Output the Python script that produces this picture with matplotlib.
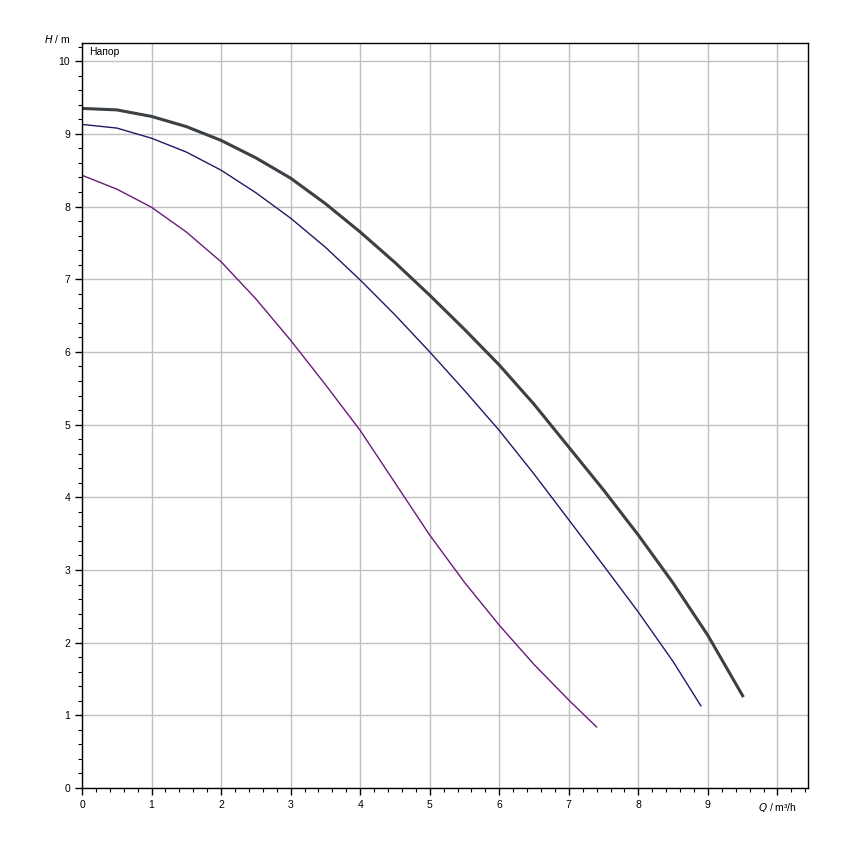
import matplotlib
matplotlib.use("Agg")
import matplotlib.pyplot as plt
from matplotlib.ticker import MultipleLocator

plt.rcParams['font.family'] = ['Liberation Sans', 'DejaVu Sans']

# Q in m3/h, H in m
q_top = [0, 0.5, 1, 1.5, 2, 2.5, 3, 3.5, 4, 4.5, 5, 5.5, 6, 6.5, 7, 7.5, 8, 8.5, 9, 9.5]
h_top = [9.35, 9.33, 9.24, 9.1, 8.91, 8.67, 8.39, 8.04, 7.65, 7.23, 6.78, 6.31, 5.82, 5.28, 4.69, 4.1, 3.48, 2.82, 2.10, 1.27]

q_mid = [0, 0.5, 1, 1.5, 2, 2.5, 3, 3.5, 4, 4.5, 5, 5.5, 6, 6.5, 7, 7.5, 8, 8.5, 8.9]
h_mid = [9.13, 9.08, 8.94, 8.75, 8.5, 8.19, 7.84, 7.44, 6.99, 6.51, 6.0, 5.47, 4.92, 4.32, 3.69, 3.06, 2.42, 1.74, 1.13]

q_low = [0, 0.5, 1, 1.5, 2, 2.5, 3, 3.5, 4, 4.5, 5, 5.5, 6, 6.5, 7, 7.4]
h_low = [8.43, 8.24, 7.99, 7.65, 7.24, 6.73, 6.16, 5.55, 4.92, 4.2, 3.48, 2.83, 2.24, 1.70, 1.21, 0.84]

x_labels = ["0", "1", "2", "3", "4", "5", "6", "7", "8", "9"]
y_labels = ["0", "1", "2", "3", "4", "5", "6", "7", "8", "9", "10"]

fig = plt.figure(figsize=(8.5, 8.5), dpi=100)
ax = fig.add_axes([0.0965, 0.0729, 0.8541, 0.8765])

ax.plot(q_low, h_low, color="#6a1a7a", lw=1.0)
ax.plot(q_mid, h_mid, color="#2a1466", lw=1.0)
ax.plot(q_top, h_top, color="#3b4045", lw=2.2, solid_joinstyle="round")

ax.set_xlim(0, 10.44)
ax.set_ylim(0, 10.25)

ax.set_xticks(range(0, 11))
ax.set_xticklabels(x_labels + [""])
ax.set_yticks(range(0, 11))
ax.set_yticklabels(y_labels)
ax.xaxis.set_minor_locator(MultipleLocator(0.2))
ax.yaxis.set_minor_locator(MultipleLocator(0.2))
ax.tick_params(which="major", direction="out", length=5, width=1, labelsize=7.5, color="black")
ax.tick_params(which="minor", direction="out", length=3, width=0.8, color="black")
ax.grid(True, which="major", color="#c0c0c0", lw=1)
ax.set_axisbelow(True)
for s in ax.spines.values():
    s.set_linewidth(1)

ax.text(10, -0.18, "$\\it{Q}$ / m³/h", fontsize=7.5, ha="center", va="top")
ax.text(-0.16, 10.3, "$\\it{H}$ / m", fontsize=7.5, ha="right", va="center")
ax.text(0.1, 10.2, "Напор", fontsize=7.5, ha="left", va="top")

fig.savefig("out.png", dpi=100)
